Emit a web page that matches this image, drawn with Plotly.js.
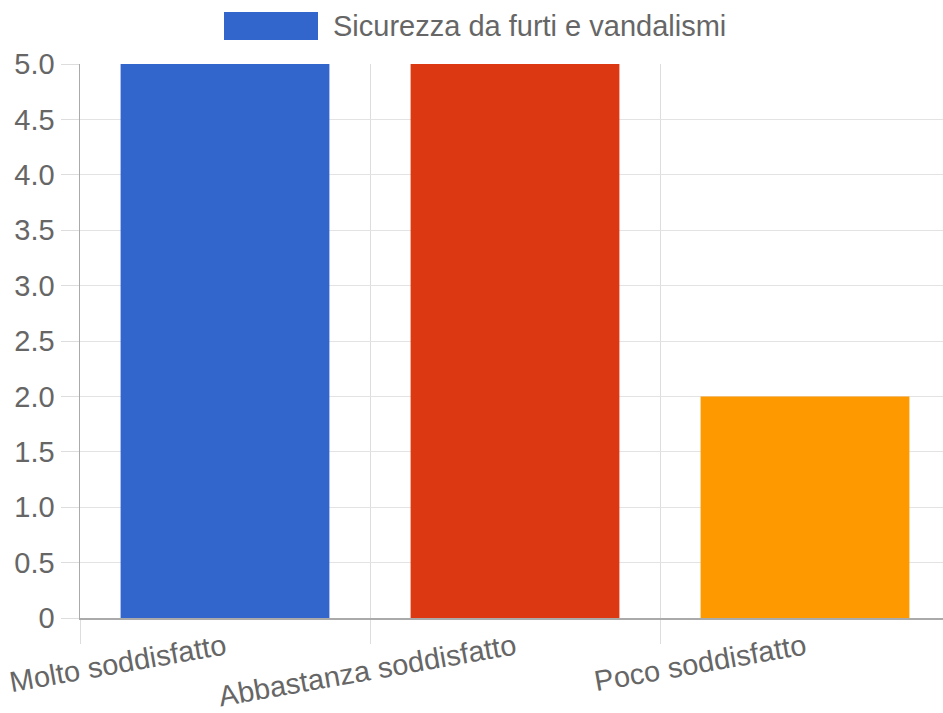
<!DOCTYPE html>
<html>
<head>
<meta charset="utf-8">
<script src="https://cdn.plot.ly/plotly-3.0.1.min.js"></script>
<style>html,body{margin:0;padding:0;background:#fff;overflow:hidden;}#wrap{width:943px;height:713px;overflow:hidden;}#chart{width:950px;height:713px;}</style>
</head>
<body>
<div id="wrap"><div id="chart"></div></div>
<script>
const seriesName = "Sicurezza da furti e vandalismi";
const categories = ["Molto soddisfatto", "Abbastanza soddisfatto", "Poco soddisfatto"];
const values = [5, 5, 2];
const barColors = ["#3366cc", "#dc3912", "#ff9900"];
const yTickVals = [0, 0.5, 1, 1.5, 2, 2.5, 3, 3.5, 4, 4.5, 5];
const yTickText = ["0", "0.5", "1.0", "1.5", "2.0", "2.5", "3.0", "3.5", "4.0", "4.5", "5.0"];

const font = {family: "Liberation Sans, Arial, sans-serif", size: 29, color: "#666666"};
const PW = 870, PH = 554, L = 80, T = 64;

const trace = {
  type: "bar",
  x: categories,
  y: values,
  name: seriesName,
  width: 0.72,
  marker: {color: barColors, line: {width: 0}},
  showlegend: false,
  hoverinfo: "x+y"
};

const layout = {
  width: 950, height: 713,
  margin: {l: L, r: 0, t: T, b: 95},
  paper_bgcolor: "#ffffff",
  plot_bgcolor: "#ffffff",
  font: font,
  showlegend: false,
  xaxis: {
    type: "category",
    range: [-0.5, 2.5],
    tickson: "boundaries",
    ticks: "outside",
    ticklen: 24,
    tickcolor: "#dddddd",
    tickwidth: 1,
    showgrid: true,
    gridcolor: "#dddddd",
    gridwidth: 1,
    showline: true,
    linecolor: "#aaaaaa",
    linewidth: 1.5,
    tickangle: -10,
    tickfont: font,
    zeroline: false,
    fixedrange: true
  },
  yaxis: {
    range: [0, 5],
    tickvals: yTickVals,
    ticktext: yTickText,
    ticks: "outside",
    ticklen: 18,
    tickcolor: "#dddddd",
    showgrid: true,
    gridcolor: "#e3e3e3",
    gridwidth: 1,
    showline: true,
    linecolor: "#aaaaaa",
    linewidth: 1.5,
    zeroline: false,
    tickfont: font,
    fixedrange: true
  },
  shapes: [{
    type: "rect", xref: "paper", yref: "paper",
    x0: (224 - L) / PW, x1: (318 - L) / PW,
    y0: (618 - 40) / PH, y1: (618 - 12) / PH,
    fillcolor: barColors[0], line: {width: 0}
  }],
  annotations: [{
    xref: "paper", yref: "paper",
    x: (331 - L) / PW, y: (618 - 26) / PH,
    xanchor: "left", yanchor: "middle",
    text: seriesName, showarrow: false,
    font: font
  }]
};

Plotly.newPlot("chart", [trace], layout, {displayModeBar: false, staticPlot: true});
</script>
</body>
</html>
